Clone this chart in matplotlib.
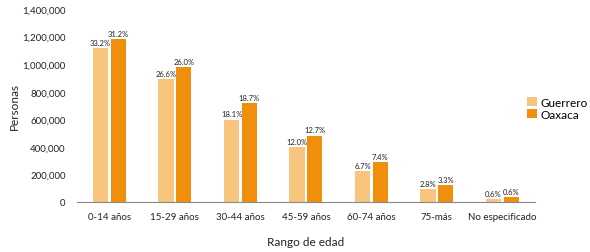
import numpy as np
import matplotlib.pyplot as plt
from matplotlib.ticker import FuncFormatter

plt.rcParams['font.family'] = ['Lato', 'DejaVu Sans']

categories = ["0-14 años", "15-29 años", "30-44 años", "45-59 años",
              "60-74 años", "75-más", "No especificado"]
guerrero = [1115000, 893000, 598000, 396000, 224000, 94000, 21000]
oaxaca = [1180000, 978000, 720000, 482000, 288000, 122000, 36000]
guerrero_pct = ["33.2%", "26.6%", "18.1%", "12.0%", "6.7%", "2.8%", "0.6%"]
oaxaca_pct = ["31.2%", "26.0%", "18.7%", "12.7%", "7.4%", "3.3%", "0.6%"]

c_guer = "#F8C57F"
c_oax = "#EF8F0C"

fig = plt.figure(figsize=(5.9, 2.53), dpi=100)
ax = fig.add_axes([0.13, 0.198, 0.777, 0.762])

x = np.arange(len(categories))
w = 0.235
off = 0.135
b1 = ax.bar(x - off, guerrero, w, color=c_guer, label="Guerrero")
b2 = ax.bar(x + off, oaxaca, w, color=c_oax, label="Oaxaca")

for bars, labels in ((b1, guerrero_pct), (b2, oaxaca_pct)):
    for bar, lab in zip(bars, labels):
        ax.annotate(lab, (bar.get_x() + bar.get_width() / 2, bar.get_height()),
                    xytext=(0, 1.5), textcoords="offset points",
                    ha="center", va="bottom", fontsize=5.5, color="#222222")

ax.set_ylim(0, 1400000)
ax.set_xlim(-0.5, 6.5)
ax.set_yticks(np.arange(0, 1400001, 200000))
ax.yaxis.set_major_formatter(FuncFormatter(lambda v, p: f"{int(v):,}"))
ax.set_xticks(x)
ax.set_xticklabels(categories)
ax.tick_params(axis="both", length=0, labelsize=7, colors="#222222")
ax.tick_params(axis="y", pad=8)
ax.tick_params(axis="x", pad=7)

for s in ("top", "right", "left"):
    ax.spines[s].set_visible(False)
ax.spines["bottom"].set_color("#888888")
ax.spines["bottom"].set_linewidth(0.8)

ax.set_ylabel("Personas", fontsize=8.5, color="#222222")
ax.yaxis.set_label_coords(-0.125, 0.5)
ax.set_xlabel("Rango de edad", fontsize=8.5, color="#222222", labelpad=11)

ax.legend(loc="upper left", bbox_to_anchor=(0.983, 0.545), frameon=False,
          fontsize=8.5, handlelength=0.8, handleheight=0.8,
          handletextpad=0.35, labelspacing=0.1, borderaxespad=0,
          borderpad=0)

fig.savefig("out.png", dpi=100)
